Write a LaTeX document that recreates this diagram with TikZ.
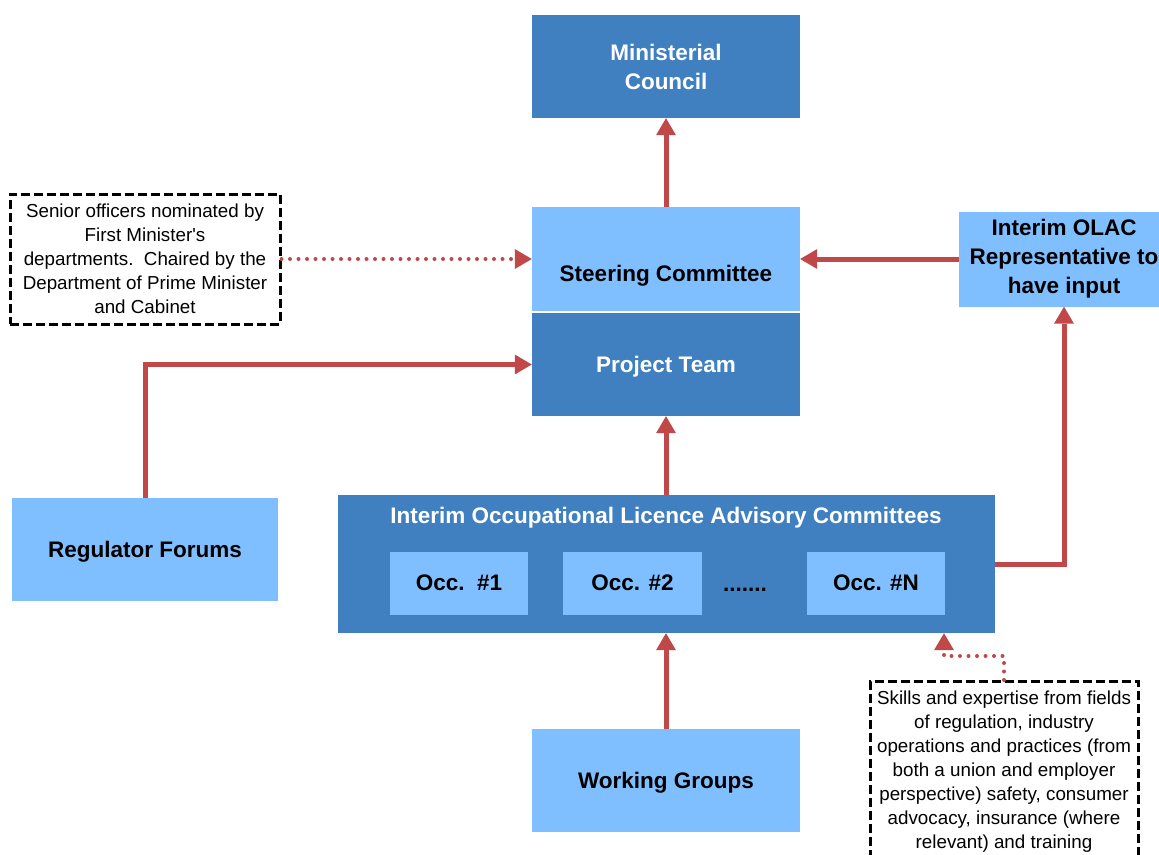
\documentclass[tikz,border=0pt]{standalone}
\usepackage{fontspec}
\setmainfont{Liberation Sans}
\usepackage{tikz}
\usetikzlibrary{arrows.meta}

\definecolor{boxdark}{RGB}{64,128,192}
\definecolor{boxlight}{RGB}{128,191,255}
\definecolor{linkred}{RGB}{192,72,72}

\begin{document}
\begin{tikzpicture}[x=1pt, y=-1pt,
    boxtext/.style={font=\fontsize{22.5}{29}\selectfont\bfseries, align=center},
    darkbox/.style={boxtext, fill=boxdark, text=white, inner sep=0pt},
    lightbox/.style={boxtext, fill=boxlight, text=black, inner sep=0pt},
    oneline/.style={text depth=0pt},
    note/.style={draw=black, line width=3pt, dash pattern=on 9pt off 4pt, fill=white,
        font=\fontsize{18.8}{24}\selectfont, align=center, inner xsep=4pt, inner ysep=9pt},
    link/.style={draw=linkred, line width=5pt, -{Triangle[length=17pt, width=20pt, line width=0pt]}},
    hint/.style={link, line width=4pt, line cap=round, dash pattern=on 0pt off 8.5pt}]
\useasboundingbox (0,0) rectangle (1159,854);

\node[darkbox, minimum width=268pt, minimum height=103pt] (mc) at (666,66.5) {Ministerial\\Council};
\node[lightbox, minimum width=268pt, minimum height=104pt,
    label={[yshift=-17pt, boxtext]center:Steering Committee}] (sc) at (666,259) {};
\node[darkbox, oneline, minimum width=268pt, minimum height=103pt] (pt) at (666,364.5) {Project Team};
\node[lightbox, minimum width=210pt, minimum height=95pt] (olac) at (1064,259) {Interim OLAC\\Representative to\\have input};
\node[lightbox, oneline, minimum width=266pt, minimum height=103pt] (rf) at (145,549.5) {Regulator Forums};
\node[darkbox, minimum width=657pt, minimum height=138pt,
    label={[yshift=46pt, boxtext, text=white]center:Interim Occupational Licence Advisory Committees}] (iolac) at (666,564) {};
\node[lightbox, minimum width=138pt, minimum height=63pt] (occ1) at (459,583) {Occ.\ \ \#1};
\node[lightbox, minimum width=139pt, minimum height=63pt] (occ2) at (632.5,583) {Occ. \#2};
\node[boxtext, anchor=base] (dots) at (745,591) {.......};
\node[lightbox, minimum width=138pt, minimum height=63pt] (occn) at (876,583) {Occ. \#N};
\node[lightbox, oneline, minimum width=268pt, minimum height=103pt] (wg) at (666,780.5) {Working Groups};

\node[note, minimum width=270pt, minimum height=130pt] (n1) at (145,259)
    {Senior officers nominated by\\First Minister\textquotesingle s\\departments.\ \ Chaired by the\\Department of Prime Minister\\and Cabinet};
\node[note, minimum width=268pt, anchor=north] (n2) at (1004,680)
    {Skills and expertise from fields\\of regulation, industry\\operations and practices (from\\both a union and employer\\perspective) safety, consumer\\advocacy, insurance (where\\relevant) and training};

\draw[link] (sc.north) -- (mc.south);
\draw[link] (iolac.north) -- (pt.south);
\draw[link] (wg.north) -- (iolac.south);
\draw[link] (rf.north) |- (pt.west);
\draw[link] (iolac.east) -| (olac.south);
\draw[link] (olac.west) -- (sc.east);
\draw[hint] (n1.east) -- (sc.west);
\draw[hint] (n2.north) -- ++(0,-24) -| ([xshift=-60pt]n2.north |- iolac.south);
\end{tikzpicture}
\end{document}
